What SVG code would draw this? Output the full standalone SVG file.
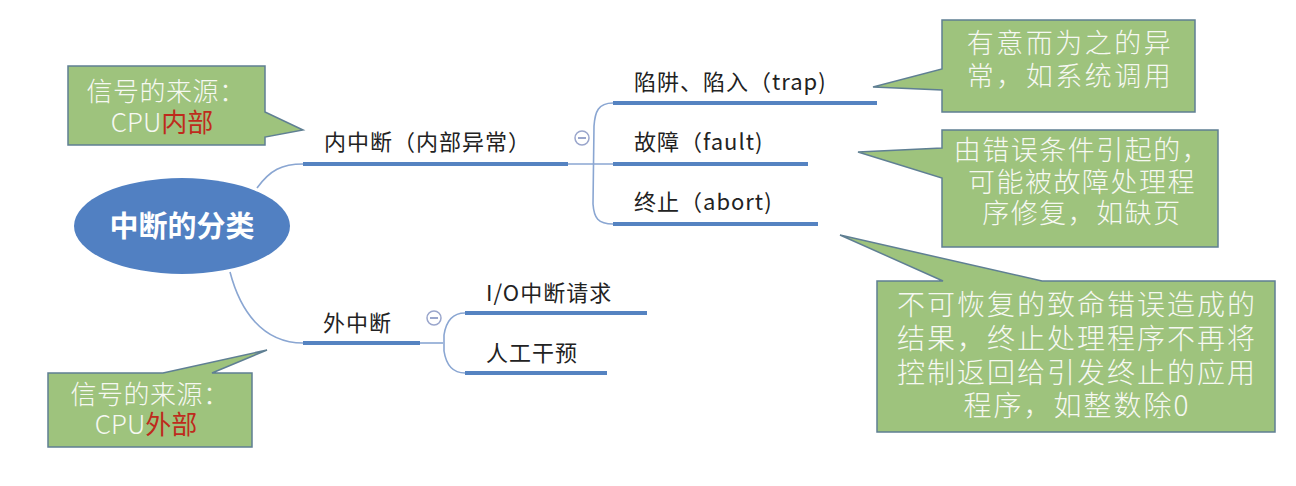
<svg xmlns="http://www.w3.org/2000/svg" width="1296" height="486" viewBox="0 0 1296 486">
<style>
.bg{fill:#ffffff}
.topic{fill:#5180C2}
.topic-t{font-family:"Noto Sans CJK SC","Noto Sans",sans-serif;font-size:29px;font-weight:bold;fill:#ffffff;text-anchor:middle}
.bar{stroke:#5583C1;stroke-width:4;fill:none;stroke-linecap:butt}
.thin{stroke:#8AA6D2;stroke-width:1.6;fill:none}
.node-t{font-family:"Noto Sans CJK SC","Noto Sans",sans-serif;font-size:22px;fill:#222222;letter-spacing:1px}
.tog{fill:#ffffff;stroke:#9AA6CC;stroke-width:1.5}
.tog-m{stroke:#9AA6CC;stroke-width:2}
.call{fill:#9EC37D;stroke:#5F7F93;stroke-width:1.5}
.call-t{font-family:"Noto Sans CJK SC","Noto Sans",sans-serif;fill:#F6F8F2;text-anchor:middle;font-weight:300}
.red{fill:#BE2B1C;font-weight:normal}
</style>
<rect class="bg" x="0" y="0" width="1296" height="486"/>
<g id="connectors">
  <path class="thin" d="M257,188 C270,170 282,164 303,164"/>
  <path class="thin" d="M230,272 C240,310 262,343 303,343"/>
  <path class="thin" d="M568,164 H613"/>
  <path class="thin" d="M613,103 C598,103 595,112 594,126 L593,204 C594,218 598,224 613,224"/>
  <path class="thin" d="M420,343 H443"/>
  <path class="thin" d="M465,313 C452,313 446,322 444,335 L444,351 C446,364 452,373 465,373"/>
</g>
<g id="topic">
  <ellipse class="topic" cx="182" cy="226" rx="108" ry="48"/>
  <text class="topic-t" x="182" y="237">中断的分类</text>
</g>
<g id="n-internal">
  <line class="bar" x1="303" y1="164" x2="568" y2="164"/>
  <text class="node-t" x="324" y="150">内中断（内部异常）</text>
  <circle class="tog" cx="582" cy="138" r="7"/>
  <line class="tog-m" x1="578" y1="138" x2="586" y2="138"/>
</g>
<g id="n-trap">
  <line class="bar" x1="613" y1="103" x2="877" y2="103"/>
  <text class="node-t" x="634" y="90">陷阱、陷入（trap)</text>
</g>
<g id="n-fault">
  <line class="bar" x1="613" y1="164" x2="808" y2="164"/>
  <text class="node-t" x="634" y="150">故障（fault)</text>
</g>
<g id="n-abort">
  <line class="bar" x1="613" y1="224" x2="818" y2="224"/>
  <text class="node-t" x="634" y="210">终止（abort)</text>
</g>
<g id="n-external">
  <line class="bar" x1="303" y1="343" x2="420" y2="343"/>
  <text class="node-t" x="323" y="331">外中断</text>
  <circle class="tog" cx="434" cy="318" r="7"/>
  <line class="tog-m" x1="430" y1="318" x2="438" y2="318"/>
</g>
<g id="n-io">
  <line class="bar" x1="465" y1="313" x2="647" y2="313"/>
  <text class="node-t" x="486" y="301">I/O中断请求</text>
</g>
<g id="n-manual">
  <line class="bar" x1="465" y1="373" x2="607" y2="373"/>
  <text class="node-t" x="486" y="361">人工干预</text>
</g>
<g id="c-internal-src">
  <path class="call" d="M68,66 H265 V112 L303,130 L265,137 V145 H68 Z"/>
  <text class="call-t" x="166" y="101" font-size="26" letter-spacing="0.5">信号的来源：</text>
  <text class="call-t" x="162" y="132" font-size="26">CPU<tspan class="red">内部</tspan></text>
</g>
<g id="c-trap">
  <path class="call" d="M942,20 H1195 V112 H942 V90 L873,87 L942,69 Z"/>
  <text class="call-t" x="1070" y="53" font-size="27" letter-spacing="2.5">有意而为之的异</text>
  <text class="call-t" x="1070" y="86" font-size="27" letter-spacing="2.5">常，如系统调用</text>
</g>
<g id="c-fault">
  <path class="call" d="M942,130 H1218 V247 H942 V178 L858,152 L942,148 Z"/>
  <text class="call-t" x="1082" y="160" font-size="27" letter-spacing="1.5">由错误条件引起的，</text>
  <text class="call-t" x="1082" y="192" font-size="27" letter-spacing="1.5">可能被故障处理程</text>
  <text class="call-t" x="1082" y="223" font-size="27" letter-spacing="1.5">序修复，如缺页</text>
</g>
<g id="c-abort">
  <path class="call" d="M877,281 H943 L840,235 L1042,281 H1275 V432 H877 Z"/>
  <text class="call-t" x="1077" y="315" font-size="28" letter-spacing="2">不可恢复的致命错误造成的</text>
  <text class="call-t" x="1077" y="349" font-size="28" letter-spacing="2">结果，终止处理程序不再将</text>
  <text class="call-t" x="1077" y="383" font-size="28" letter-spacing="2">控制返回给引发终止的应用</text>
  <text class="call-t" x="1077" y="416" font-size="28" letter-spacing="2">程序，如整数除0</text>
</g>
<g id="c-external-src">
  <path class="call" d="M48,373 H163 L267,350 L212,373 H252 V447 H48 Z"/>
  <text class="call-t" x="150" y="404" font-size="26" letter-spacing="0.5">信号的来源：</text>
  <text class="call-t" x="146" y="434" font-size="26">CPU<tspan class="red">外部</tspan></text>
</g>
</svg>
